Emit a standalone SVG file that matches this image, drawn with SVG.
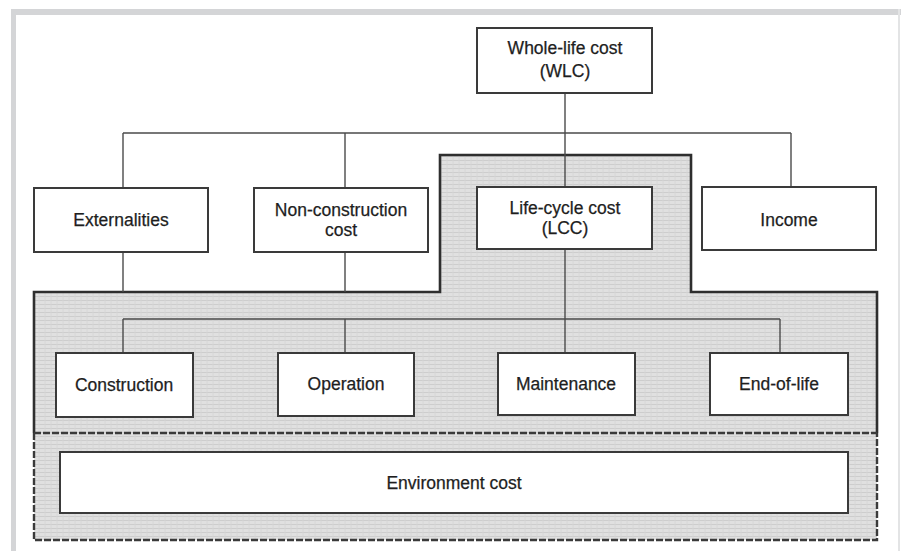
<svg xmlns="http://www.w3.org/2000/svg" width="901" height="551" viewBox="0 0 901 551">
  <defs>
    <pattern id="tex" width="6" height="4" patternUnits="userSpaceOnUse">
      <rect width="6" height="4" fill="#e0e0e0"/>
      <path d="M0,0.5 H6" stroke="#cdcdcd" stroke-width="1"/>
      <path d="M3,0 V4" stroke="#d6d6d6" stroke-width="0.8"/>
    </pattern>
  </defs>
  <style>
    .box { fill: #ffffff; stroke: #3a3a3a; stroke-width: 2; }
    .conn { fill: none; stroke: #4a4a4a; stroke-width: 1.4; }
    .zone { fill: none; stroke: #2e2e2e; stroke-width: 2.6; }
    .dash { fill: none; stroke: #3a3a3a; stroke-width: 2.4; stroke-dasharray: 7 2; }
    text { font-family: "Liberation Sans", Arial, sans-serif; font-size: 17.5px; fill: #1e1e1e; stroke: #1e1e1e; stroke-width: 0.25; text-anchor: middle; }
  </style>

  <rect x="0" y="0" width="901" height="551" fill="#ffffff"/>
  <!-- outer frame -->
  <rect x="11" y="9" width="890" height="6" fill="#d4d5d7"/>
  <rect x="11" y="9" width="5" height="542" fill="#d4d5d7"/>
  <rect x="898" y="9" width="2" height="542" fill="#e3e4e5"/>

  <!-- shaded zone -->
  <g id="zone">
    <path d="M34,292 H440 V155 H691 V292 H877 V540 H34 Z" fill="url(#tex)"/>
    <path class="zone" d="M34,433 V292 H440 V155 H691 V292 H877 V433"/>
    <path class="dash" d="M34,433 H877"/>
    <path class="dash" d="M34,433 V540 H877 V433"/>
  </g>

  <g id="connectors">
    <path class="conn" d="M565,93 V187"/>
    <path class="conn" d="M123,133 H791"/>
    <path class="conn" d="M123,133 V188"/>
    <path class="conn" d="M345,133 V188"/>
    <path class="conn" d="M791,133 V187"/>
    <path class="conn" d="M123,252 V292"/>
    <path class="conn" d="M345,252 V292"/>
    <path class="conn" d="M565,249 V353"/>
    <path class="conn" d="M123,319 H780"/>
    <path class="conn" d="M123,319 V353"/>
    <path class="conn" d="M345,319 V353"/>
    <path class="conn" d="M780,319 V353"/>
  </g>

  <g id="wlc">
    <rect class="box" x="477" y="28" width="175" height="65"/>
    <text x="565" y="54">Whole-life cost</text>
    <text x="565" y="77">(WLC)</text>
  </g>
  <g id="externalities">
    <rect class="box" x="34" y="188" width="174" height="64"/>
    <text x="121" y="226">Externalities</text>
  </g>
  <g id="non-construction">
    <rect class="box" x="254" y="188" width="174" height="64"/>
    <text x="341" y="216">Non-construction</text>
    <text x="341" y="236">cost</text>
  </g>
  <g id="lcc">
    <rect class="box" x="477" y="187" width="175" height="62"/>
    <text x="565" y="214">Life-cycle cost</text>
    <text x="565" y="234">(LCC)</text>
  </g>
  <g id="income">
    <rect class="box" x="702" y="187" width="174" height="63"/>
    <text x="789" y="226">Income</text>
  </g>
  <g id="construction">
    <rect class="box" x="56" y="353" width="137" height="64"/>
    <text x="124" y="391">Construction</text>
  </g>
  <g id="operation">
    <rect class="box" x="278" y="353" width="136" height="63"/>
    <text x="346" y="390">Operation</text>
  </g>
  <g id="maintenance">
    <rect class="box" x="498" y="353" width="137" height="62"/>
    <text x="566" y="390">Maintenance</text>
  </g>
  <g id="end-of-life">
    <rect class="box" x="710" y="353" width="138" height="62"/>
    <text x="779" y="390">End-of-life</text>
  </g>
  <g id="environment">
    <rect class="box" x="60" y="452" width="788" height="61"/>
    <text x="454" y="489">Environment cost</text>
  </g>
</svg>
